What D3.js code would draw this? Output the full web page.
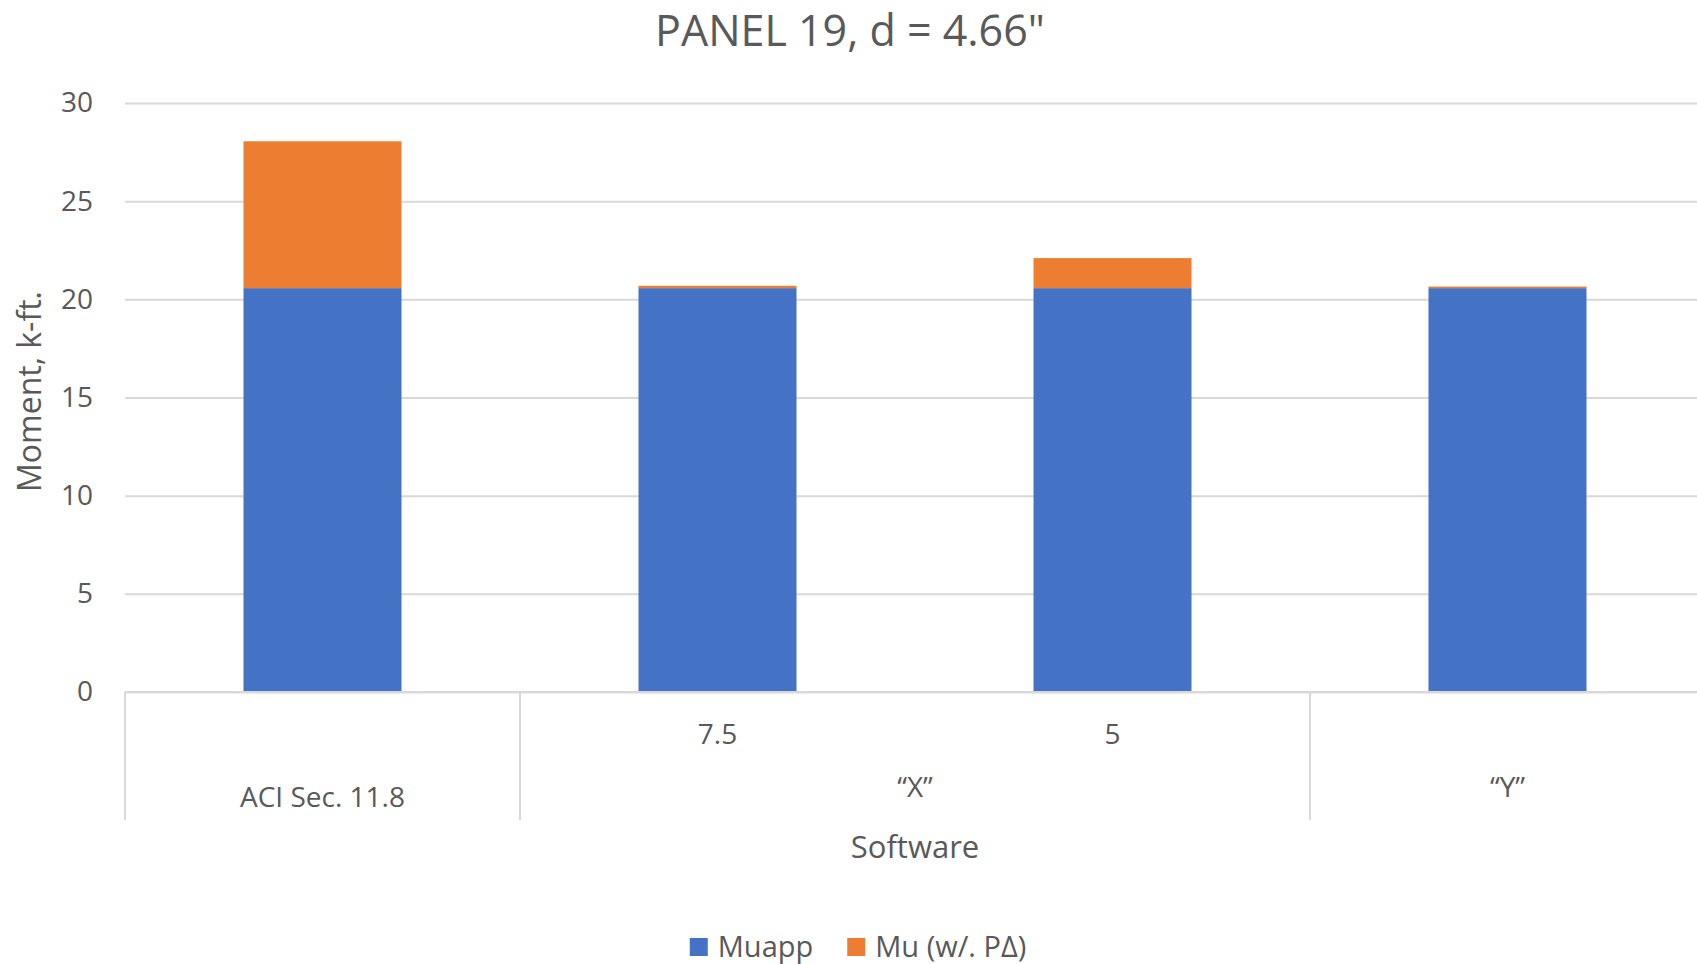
<!DOCTYPE html>
<html>
<head>
<meta charset="utf-8">
<script src="https://cdn.jsdelivr.net/npm/d3@7"></script>
<style>
  html, body { margin: 0; padding: 0; background: #fff; }
  svg { display: block; font-family: "Open Sans", "Noto Sans", sans-serif; }
</style>
</head>
<body>
<svg id="chart" width="1697" height="964"></svg>
<script>
// Category levels: outer group label and inner sub-label for each bar
const groupLabels = ["ACI Sec. 11.8", "\u201CX\u201D", "\u201CX\u201D", "\u201CY\u201D"];
const subLabels = ["", "7.5", "5", ""];

// Series values (k-ft.)
const muapp = [20.57, 20.57, 20.57, 20.57];
const muPDelta = [7.48, 0.12, 1.53, 0.08];

const seriesNames = ["Muapp", "Mu (w/. P\u0394)"];
const seriesColors = ["#4472C4", "#ED7D31"];
const yTicks = [0, 5, 10, 15, 20, 25, 30];

const chartTitle = "PANEL 19, d = 4.66\"";
const yTitle = "Moment, k-ft.";
const xTitle = "Software";

const textColor = "#595959";
const gridColor = "#d9d9d9";

const svg = d3.select("#chart");

const plot = { left: 125, right: 1705, top: 103, bottom: 692 };

const keys = groupLabels.map((g, i) => g + "|" + subLabels[i]);

const x = d3.scaleBand()
  .domain(keys)
  .range([plot.left, plot.right])
  .paddingInner(0.6)
  .paddingOuter(0.3);

const y = d3.scaleLinear()
  .domain([0, 30])
  .range([plot.bottom, plot.top]);

// Gridlines and y tick labels
const yAxis = d3.axisLeft(y)
  .tickValues(yTicks)
  .tickSize(-(plot.right - plot.left))
  .tickPadding(32)
  .tickFormat(d3.format("d"));

const yG = svg.append("g")
  .attr("transform", `translate(${plot.left},0)`)
  .call(yAxis);
yG.select(".domain").remove();
yG.selectAll(".tick line")
  .attr("stroke", gridColor)
  .attr("stroke-width", 2);
yG.selectAll(".tick text")
  .attr("fill", textColor)
  .style("font-size", "28px")
  .style("font-family", "\"Open Sans\", sans-serif");

// Stacked bars
const rows = keys.map((k, i) => ({ key: k, Muapp: muapp[i], PD: muPDelta[i] }));
const stack = d3.stack().keys(["Muapp", "PD"]);
const stacked = stack(rows);

svg.append("g")
  .selectAll("g")
  .data(stacked)
  .join("g")
  .attr("fill", (d, i) => seriesColors[i])
  .selectAll("rect")
  .data(d => d)
  .join("rect")
  .attr("x", d => x(d.data.key))
  .attr("width", x.bandwidth())
  .attr("y", d => y(d[1]))
  .attr("height", d => y(d[0]) - y(d[1]));

// Category axis baseline
svg.append("line")
  .attr("x1", plot.left).attr("x2", plot.right)
  .attr("y1", y(0)).attr("y2", y(0))
  .attr("stroke", gridColor).attr("stroke-width", 2);

// Group boundaries of the multi-level category axis
const step = x.step();
const firstIdx = [];
groupLabels.forEach((g, i) => { if (i === 0 || groupLabels[i - 1] !== g) firstIdx.push(i); });
const groups = firstIdx.map((start, gi) => {
  const end = gi + 1 < firstIdx.length ? firstIdx[gi + 1] - 1 : keys.length - 1;
  return {
    label: groupLabels[start],
    first: start === 0,
    x0: x(keys[start]) - step * x.paddingInner() / 2 - (start === 0 ? step * (x.paddingOuter() - x.paddingInner() / 2) : 0),
    x1: x(keys[end]) + x.bandwidth() + step * x.paddingInner() / 2 + (end === keys.length - 1 ? step * (x.paddingOuter() - x.paddingInner() / 2) : 0)
  };
});

const boundaryX = [groups[0].x0].concat(groups.map(g => g.x1));
svg.append("g")
  .selectAll("line")
  .data(boundaryX)
  .join("line")
  .attr("x1", d => d).attr("x2", d => d)
  .attr("y1", y(0)).attr("y2", 820)
  .attr("stroke", gridColor).attr("stroke-width", 2);

// Inner level labels
svg.append("g")
  .selectAll("text")
  .data(keys.filter((k, i) => subLabels[i] !== ""))
  .join("text")
  .attr("x", k => x(k) + x.bandwidth() / 2)
  .attr("y", 744)
  .attr("text-anchor", "middle")
  .attr("fill", textColor)
  .style("font-size", "28px")
  .text(k => k.split("|")[1]);

// Outer level labels (the first one spans both label rows)
svg.append("g")
  .selectAll("text")
  .data(groups)
  .join("text")
  .attr("x", g => (g.x0 + g.x1) / 2)
  .attr("y", g => g.first ? 807 : 797)
  .attr("text-anchor", "middle")
  .attr("fill", textColor)
  .style("font-size", "28px")
  .text(g => g.label);

// Titles
svg.append("text")
  .attr("x", 850).attr("y", 46)
  .attr("text-anchor", "middle")
  .attr("fill", textColor)
  .style("font-size", "43px")
  .text(chartTitle);

svg.append("text")
  .attr("transform", `translate(41,${(plot.top + plot.bottom) / 2 - 6}) rotate(-90)`)
  .attr("text-anchor", "middle")
  .attr("fill", textColor)
  .style("font-size", "32px")
  .text(yTitle);

svg.append("text")
  .attr("x", (plot.left + plot.right) / 2).attr("y", 858)
  .attr("text-anchor", "middle")
  .attr("fill", textColor)
  .style("font-size", "31px")
  .text(xTitle);

// Legend
const legend = svg.append("g");
const items = legend.selectAll("g")
  .data(seriesNames)
  .join("g");
items.append("rect")
  .attr("width", 18).attr("height", 18)
  .attr("y", 938)
  .attr("fill", (d, i) => seriesColors[i]);
items.append("text")
  .attr("x", 28).attr("y", 957)
  .attr("fill", textColor)
  .style("font-size", "29px")
  .text(d => d);

// Lay out legend entries side by side, centered
const gap = 34;
const widths = [];
items.each(function () { widths.push(this.getBBox().width); });
const total = d3.sum(widths) + gap * (widths.length - 1);
let cursor = 858 - total / 2;
items.attr("transform", (d, i) => {
  const tx = cursor;
  cursor += widths[i] + gap;
  return `translate(${tx},0)`;
});
</script>
</body>
</html>
